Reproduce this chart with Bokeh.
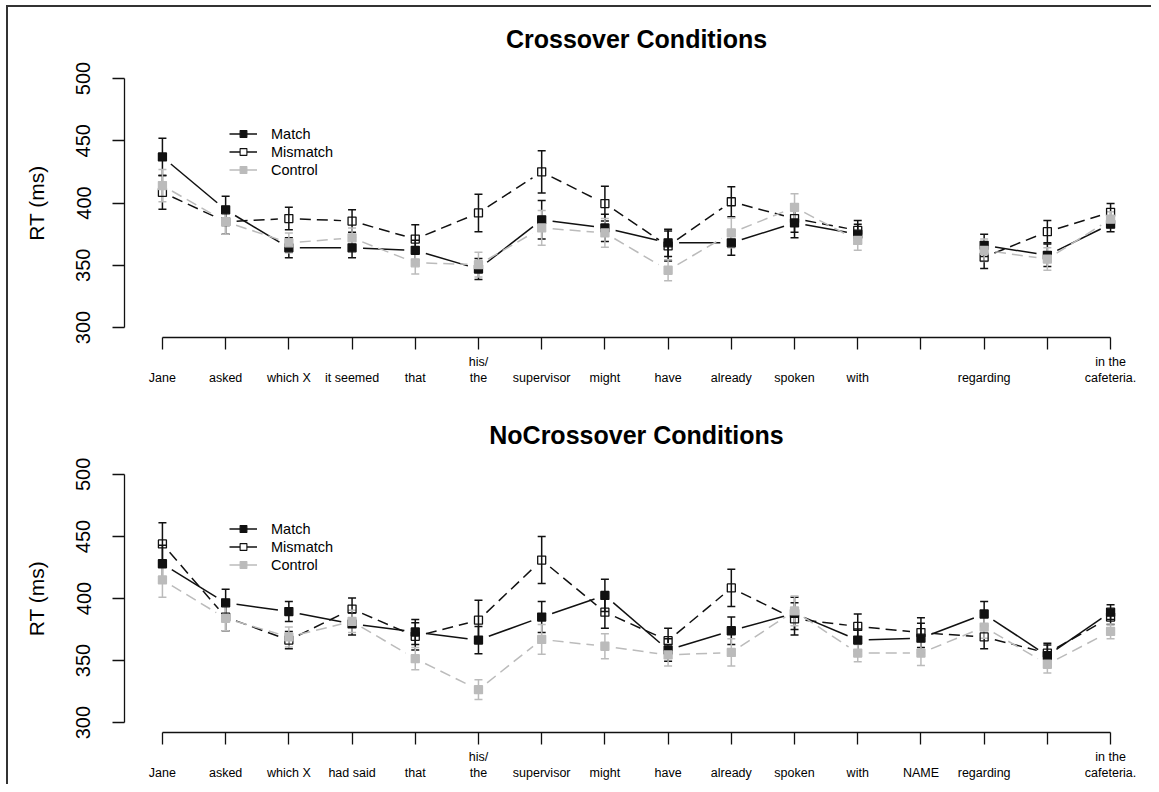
import math
from bokeh.plotting import figure
from bokeh.models import (ColumnDataSource, Range1d, FixedTicker, Whisker, TeeHead,
                          Legend, LegendItem)
from bokeh.layouts import column
from bokeh.embed import file_html
from bokeh.resources import INLINE

# ---------------- data ----------------
positions = list(range(1, 17))

top_title = "Crossover Conditions"
top_labels = ["Jane", "asked", "which X", "it seemed", "that", "his/\nthe", "supervisor",
              "might", "have", "already", "spoken", "with", "", "regarding", "",
              "in the\ncafeteria."]
top_match = [437, 394.5, 364, 364, 362, 347, 386.5, 380, 368, 368, 384, 375, None, 366, 358, 383]
top_match_err = [15, 11, 8, 8, 8, 8.5, 15.5, 11, 11, 10, 12, 8, None, 9, 9, 6]
top_mismatch = [408.5, 385, 387.5, 385.5, 371, 392, 425, 399.5, 365.5, 401, 387.5, 378, None, 356.5, 377, 392.5]
top_mismatch_err = [13.5, 10, 9, 9, 11.5, 15, 17, 14, 12, 12, 11, 8, None, 9, 9, 7]
top_control = [414, 385, 368, 372, 352, 350.5, 380, 376, 346, 376, 396.5, 370, None, 362, 355, 387]
top_control_err = [13, 10, 8, 8, 9, 10, 14, 11.5, 8.5, 12, 11, 8, None, 9, 9, 6]

bottom_title = "NoCrossover Conditions"
bottom_labels = ["Jane", "asked", "which X", "had said", "that", "his/\nthe", "supervisor",
                 "might", "have", "already", "spoken", "with", "NAME", "regarding", "",
                 "in the\ncafeteria."]
bottom_match = [428, 396.5, 389.5, 379.5, 373, 366.5, 385, 402.5, 358.5, 374, 388, 366.5, 368, 387.5, 354, 389]
bottom_match_err = [15, 11, 8, 9, 10, 11, 12.5, 13, 9, 11, 13, 9, 12, 10, 8.5, 6]
bottom_mismatch = [444, 385, 366.5, 391.5, 369.5, 382.5, 431, 389, 366, 408.5, 383.5, 377.5, 372.5, 369, 356, 385]
bottom_mismatch_err = [17, 11, 7, 9, 11, 16, 19, 13, 10, 15, 13, 10, 12, 9.5, 8, 6]
bottom_control = [415, 384, 369, 381.5, 351.5, 326.5, 367, 361.5, 354.5, 356.5, 390, 356, 356, 377, 347, 373.5]
bottom_control_err = [14, 10, 8, 9, 9, 8, 12, 10, 9, 11, 12, 7, 10, 9, 7, 6]

y_ticks = [300, 350, 400, 450, 500]
series_names = ["Match", "Mismatch", "Control"]

# ---------------- style ----------------
FONT = "Liberation Sans"
BLACK = "#111111"
GRAY = "#bbbbbb"
XR = (0.4, 16.6)
YR = (292, 508)
FRAME_W = 1024
GAP = 11  # px gap between line ends and points (R type="b")
NAN = float("nan")

styles = {
    "Match": dict(color=BLACK, dash="solid", fill=BLACK, fill_alpha=1.0),
    "Mismatch": dict(color=BLACK, dash="11 6", fill="white", fill_alpha=0.0),
    "Control": dict(color=GRAY, dash="11 6", fill=GRAY, fill_alpha=1.0),
}


def gapped_segments(xs, ys, sx, sy):
    x0, y0, x1, y1 = [], [], [], []
    for i in range(len(xs) - 1):
        if ys[i] is None or ys[i + 1] is None:
            continue
        dxp = (xs[i + 1] - xs[i]) * sx
        dyp = (ys[i + 1] - ys[i]) * sy
        L = math.hypot(dxp, dyp)
        if L <= 2 * GAP:
            continue
        t = GAP / L
        x0.append(xs[i] + (xs[i + 1] - xs[i]) * t)
        y0.append(ys[i] + (ys[i + 1] - ys[i]) * t)
        x1.append(xs[i + 1] - (xs[i + 1] - xs[i]) * t)
        y1.append(ys[i + 1] - (ys[i + 1] - ys[i]) * t)
    return dict(x0=x0, y0=y0, x1=x1, y1=y1)


def make_panel(title, labels, data, height, top_b, frame_h, bottom_b, title_standoff):
    p = figure(width=1143, height=height, x_range=Range1d(*XR), y_range=Range1d(*YR),
               output_backend="svg", toolbar_location=None,
               min_border_left=116, min_border_right=3,
               min_border_top=top_b, min_border_bottom=bottom_b)
    p.outline_line_color = None
    p.xgrid.visible = False
    p.ygrid.visible = False
    p.background_fill_color = "white"
    p.border_fill_color = "white"

    p.title.text = title
    p.title.align = "center"
    p.title.text_font = FONT
    p.title.text_font_size = "25px"
    p.title.text_font_style = "bold"
    p.title.text_color = "black"
    p.title.standoff = title_standoff

    sx = FRAME_W / (XR[1] - XR[0])
    sy = frame_h / (YR[1] - YR[0])

    legend_items = []
    for name, (vals, errs) in zip(series_names, data):
        st = styles[name]
        xs = [x for x, v in zip(positions, vals) if v is not None]
        vs = [v for v in vals if v is not None]
        es = [e for e in errs if e is not None]
        src = ColumnDataSource(dict(x=xs, y=vs,
                                    upper=[v + e for v, e in zip(vs, es)],
                                    lower=[v - e for v, e in zip(vs, es)]))
        w = Whisker(source=src, base="x", upper="upper", lower="lower",
                    line_color=st["color"], line_width=1.5,
                    upper_head=TeeHead(size=8, line_color=st["color"], line_width=1.5),
                    lower_head=TeeHead(size=8, line_color=st["color"], line_width=1.5))
        p.add_layout(w)
        seg = gapped_segments(positions, vals, sx, sy)
        p.segment(x0="x0", y0="y0", x1="x1", y1="y1", source=ColumnDataSource(seg),
                  line_color=st["color"], line_width=1.5, line_dash=st["dash"])
        p.scatter(x="x", y="y", source=src, marker="square", size=8,
                  line_color=st["color"], line_width=1.3,
                  fill_color=st["fill"], fill_alpha=st["fill_alpha"])
        # legend-only renderers (solid short line + small marker), nothing plotted
        lr = p.line(x=[NAN], y=[NAN], line_color=st["color"], line_width=1.5)
        mr = p.scatter(x=[NAN], y=[NAN], marker="square", size=6, line_color=st["color"],
                       line_width=1.1,
                       fill_color="white" if name == "Mismatch" else st["fill"],
                       fill_alpha=1.0)
        legend_items.append(LegendItem(label=name, renderers=[lr, mr]))

    legend = Legend(items=legend_items, location=(105, 159), orientation="vertical",
                    padding=0, margin=0, spacing=1, glyph_width=28, glyph_height=17,
                    label_height=17, label_standoff=14, label_text_font=FONT,
                    label_text_font_size="14.5px", label_text_color="black",
                    border_line_alpha=0, background_fill_alpha=0)
    p.add_layout(legend)

    # y axis
    ya = p.yaxis[0]
    ya.ticker = FixedTicker(ticks=y_ticks)
    ya.bounds = (y_ticks[0], y_ticks[-1])
    ya.minor_tick_line_color = None
    ya.major_tick_out = 12
    ya.major_tick_in = 0
    ya.major_label_orientation = "vertical"
    ya.major_label_text_font = FONT
    ya.major_label_text_font_size = "20px"
    ya.major_label_text_color = "black"
    ya.major_label_standoff = 22
    ya.axis_line_color = BLACK
    ya.axis_line_width = 1.3
    ya.major_tick_line_color = BLACK
    ya.major_tick_line_width = 1.3
    ya.axis_label = "RT (ms)"
    ya.axis_label_text_font = FONT
    ya.axis_label_text_font_size = "21px"
    ya.axis_label_text_font_style = "normal"
    ya.axis_label_text_color = "black"
    ya.axis_label_standoff = 26

    # x axis
    xa = p.xaxis[0]
    xa.ticker = FixedTicker(ticks=positions)
    xa.bounds = (positions[0], positions[-1])
    xa.minor_tick_line_color = None
    xa.major_tick_out = 12
    xa.major_tick_in = 0
    xa.major_label_overrides = {pos: (lab if "\n" in lab else "\n" + lab)
                                for pos, lab in zip(positions, labels)}
    xa.major_label_text_font = FONT
    xa.major_label_text_font_size = "12.5px"
    xa.major_label_text_color = "black"
    xa.major_label_standoff = 5
    xa.axis_line_color = BLACK
    xa.axis_line_width = 1.3
    xa.major_tick_line_color = BLACK
    xa.major_tick_line_width = 1.3
    return p


p_top = make_panel(top_title, top_labels,
                   [(top_match, top_match_err), (top_mismatch, top_mismatch_err),
                    (top_control, top_control_err)],
                   height=389, top_b=61, frame_h=269, bottom_b=59, title_standoff=31)
p_bot = make_panel(bottom_title, bottom_labels,
                   [(bottom_match, bottom_match_err), (bottom_mismatch, bottom_mismatch_err),
                    (bottom_control, bottom_control_err)],
                   height=388, top_b=68, frame_h=268, bottom_b=52, title_standoff=32)

layout = column(p_top, p_bot, margin=(5, 0, 0, 6),
                styles={"border-left": "2px solid #333", "border-top": "2px solid #333"})

open("out.html", "w").write(file_html(layout, INLINE))
